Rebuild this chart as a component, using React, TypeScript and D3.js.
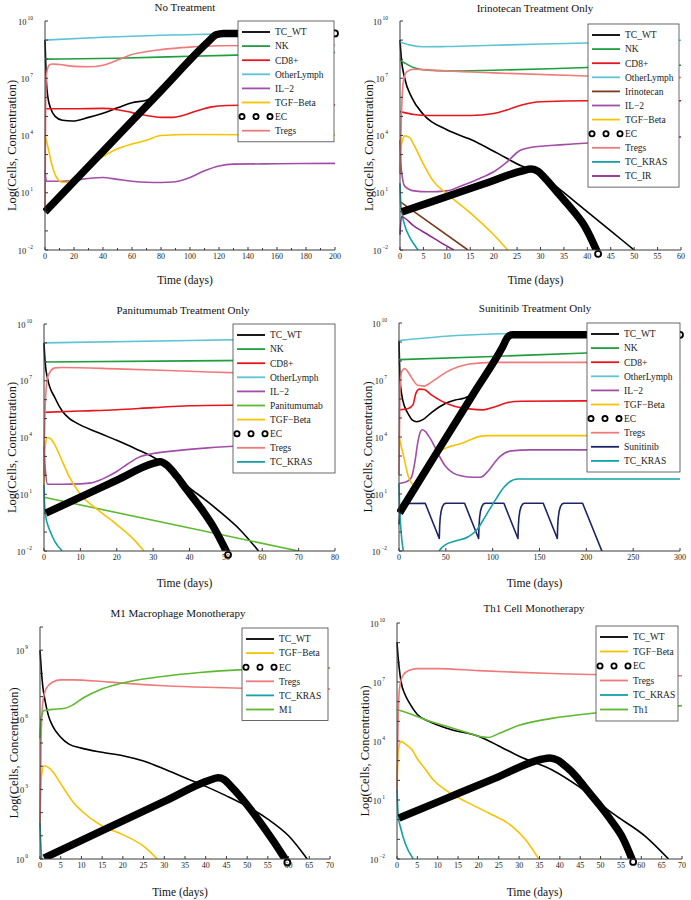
import React from "react";
import * as d3 from "d3";

type Pt = [number, number]; // [day, log10(value)]

// ---------------- Panel 1: No Treatment ----------------
const nt_TC_WT: Pt[] = [[0,9.0],[0.5,7.8],[1,6.8],[2,6.0],[4,5.4],[7,5.0],[12,4.8],[19,4.76],[30,4.95],[40,5.17],[50,5.45],[60,5.72],[70,5.85],[75,6.05],[80,6.4],[90,7.1],[100,7.85],[110,8.65],[118,9.2],[125,9.33],[200,9.34]];
const nt_NK: Pt[] = [[0,8.0],[50,8.05],[100,8.15],[150,8.25],[200,8.35]];
const nt_CD8: Pt[] = [[0,5.4],[20,5.4],[40,5.42],[50,5.35],[60,5.2],[70,5.05],[80,4.95],[88,4.95],[95,5.05],[105,5.3],[115,5.5],[125,5.57],[150,5.6],[200,5.6]];
const nt_Other: Pt[] = [[0,9.0],[40,9.15],[80,9.25],[120,9.32],[200,9.36]];
const nt_IL2: Pt[] = [[0,2.2],[0.5,1.8],[1,1.6],[10,1.6],[20,1.65],[30,1.75],[40,1.8],[50,1.7],[60,1.6],[70,1.55],[80,1.54],[90,1.58],[100,1.8],[110,2.15],[120,2.4],[130,2.5],[160,2.52],[200,2.54]];
const nt_TGF: Pt[] = [[0,4.0],[2,3.4],[5,2.4],[8,1.8],[12,1.55],[15,1.55],[20,1.8],[30,2.4],[40,2.9],[50,3.3],[60,3.55],[70,3.75],[80,4.0],[100,4.05],[200,4.02]];
const nt_EC: Pt[] = [[0,0.0],[40,3.17],[80,6.34],[112,8.87],[118,9.28],[123,9.35],[200,9.35]];
const nt_Tregs: Pt[] = [[0,0.0],[0.5,6.0],[1,7.2],[3,7.7],[5,7.75],[10,7.72],[20,7.62],[30,7.6],[40,7.68],[50,7.95],[60,8.25],[70,8.4],[80,8.5],[100,8.63],[120,8.7],[150,8.72],[200,8.73]];

// ---------------- Panel 2: Irinotecan ----------------
const ir_TC_WT: Pt[] = [[0,9.0],[0.3,8.0],[1,7.0],[2.5,6.0],[5,5.1],[10,4.3],[15,3.8],[21,3.05],[26,2.4],[29,2.15],[34,1.2],[39.5,0.1],[45,-1.0],[50,-2.0]];
const ir_NK: Pt[] = [[0,7.95],[1,7.8],[3,7.55],[6,7.42],[10,7.38],[20,7.42],[40,7.56],[60,7.68]];
const ir_CD8: Pt[] = [[0,5.25],[3,5.1],[6,5.05],[15,5.05],[20,5.15],[23,5.35],[26,5.6],[30,5.77],[40,5.82],[60,5.82]];
const ir_Other: Pt[] = [[0,8.9],[2,8.75],[5,8.65],[10,8.66],[20,8.73],[40,8.85],[60,8.99]];
const ir_Irino: Pt[] = [[0,0.53],[14.5,-2.0]];
const ir_IL2: Pt[] = [[0,3.75],[0.3,2.2],[1,1.35],[3,1.1],[6,1.05],[10,1.1],[13,1.35],[17,1.75],[20,2.1],[23,2.65],[25.5,3.2],[28,3.38],[35,3.52],[45,3.68],[60,3.93]];
const ir_TGF: Pt[] = [[0,2.0],[0.3,3.5],[1,3.98],[2,3.9],[3,3.5],[5,2.5],[7,1.65],[10,0.95],[15,-0.05],[20,-1.2],[23,-2.0]];
const ir_EC: Pt[] = [[0.4,0.0],[9,0.72],[18,1.47],[26,2.14],[28,2.24],[29.5,2.12],[31,1.75],[34,0.9],[37,0.05],[39.5,-0.78],[42.3,-2.2]];
const ir_Tregs: Pt[] = [[0,2.0],[0.3,5.0],[0.7,6.8],[1.5,7.35],[3,7.47],[5,7.45],[10,7.38],[20,7.28],[40,7.12],[60,7.04]];
const ir_KRAS: Pt[] = [[0,1.5],[0.15,0.5],[0.5,-0.2],[1,-0.7],[2,-1.3],[3,-1.7],[4,-2.05]];
const ir_TCIR: Pt[] = [[0,-1.2],[0.3,-0.26],[3,-0.75],[6,-1.2],[9,-1.65],[11.5,-2.0]];

// ---------------- Panel 3: Panitumumab ----------------
const pa_TC_WT: Pt[] = [[0,9.0],[0.3,8.0],[1,7.1],[3,6.1],[5,5.4],[7,5.0],[9,4.76],[15,4.25],[20,3.85],[25,3.42],[32,2.72],[35,2.25],[39,1.5],[44,0.75],[48.3,0.08],[54,-0.9],[59,-2.0]];
const pa_NK: Pt[] = [[0,7.99],[40,8.05],[80,8.11]];
const pa_CD8: Pt[] = [[0,5.33],[10,5.4],[20,5.47],[30,5.58],[40,5.68],[60,5.73],[80,5.76]];
const pa_Other: Pt[] = [[0,9.0],[40,9.13],[80,9.26]];
const pa_IL2: Pt[] = [[0,3.5],[0.3,2.5],[1,1.53],[5,1.53],[10,1.55],[13,1.6],[16,1.8],[20,2.2],[23,2.6],[26,2.95],[30,3.15],[35,3.28],[45,3.45],[55,3.58],[80,3.78]];
const pa_Pani: Pt[] = [[0,0.84],[70,-2.0]];
const pa_TGF: Pt[] = [[0,1.5],[0.3,3.5],[1,4.0],[2,3.9],[3,3.6],[5,2.75],[7,1.9],[10,1.0],[15,0.15],[20,-0.6],[25,-1.45],[27.5,-2.0]];
const pa_EC: Pt[] = [[0.5,0.0],[10,0.85],[20,1.74],[30,2.63],[32,2.72],[34,2.5],[36.5,1.95],[39,1.3],[43,0.3],[46.5,-0.7],[50.6,-2.2]];
const pa_Tregs: Pt[] = [[0,2.0],[0.3,5.5],[1,7.2],[3,7.68],[5,7.7],[20,7.63],[40,7.5],[60,7.38],[80,7.32]];
const pa_KRAS: Pt[] = [[0,1.5],[0.15,0.5],[0.5,-0.2],[1,-0.6],[2,-1.1],[3,-1.5],[5,-2.0]];

// ---------------- Panel 4: Sunitinib ----------------
const su_TC_WT: Pt[] = [[0,9.05],[0.5,8.0],[1.2,7.0],[3,6.2],[6,5.6],[10,5.2],[14,4.9],[19,4.8],[25,4.9],[35,5.3],[49,5.75],[60,5.95],[70,6.05],[78,6.25],[85,6.57],[95,7.4],[102,7.98],[110,8.6],[117,9.12],[124,9.37],[300,9.38]];
const su_NK: Pt[] = [[0,8.07],[100,8.24],[200,8.42],[300,8.54]];
const su_CD8: Pt[] = [[0,5.43],[10,5.5],[15,5.7],[18,6.3],[22,6.52],[27,6.5],[35,6.2],[45,5.9],[60,5.6],[75,5.48],[90,5.43],[100,5.55],[115,5.8],[130,5.88],[200,5.9],[230,5.8],[260,5.72],[300,5.7]];
const su_Other: Pt[] = [[0,9.07],[50,9.3],[100,9.42],[200,9.5],[300,9.53]];
const su_IL2: Pt[] = [[0,1.55],[5,1.6],[10,1.7],[13.5,1.9],[17,2.7],[20,3.7],[23,4.3],[25,4.38],[28,4.3],[33,3.95],[37,3.6],[43,3.0],[49,2.5],[58,2.1],[67,1.95],[80,1.88],[87,1.88],[95,2.2],[102,2.65],[108,2.98],[120,3.27],[140,3.32],[200,3.32],[225,3.0],[250,2.72],[300,2.65]];
const su_TGF: Pt[] = [[0,4.02],[1,3.8],[4.6,3.06],[10,1.92],[15,1.52],[20,1.65],[28,2.35],[36,2.9],[46,3.32],[56,3.52],[67,3.67],[76,3.85],[85,4.02],[95,4.07],[300,4.07]];
const su_EC: Pt[] = [[0.5,0.0],[40,3.15],[80,6.32],[111,8.78],[116,9.25],[121,9.38],[300,9.38]];
const su_Tregs: Pt[] = [[0,2.0],[1,6.5],[3,7.45],[6,7.6],[10,7.4],[15,7.0],[20,6.72],[27,6.68],[35,6.9],[50,7.4],[75,7.84],[100,7.93],[200,7.93],[240,8.3],[300,8.77]];
const su_Suni: Pt[] = [[0,-0.6],[1,0.0],[2,0.35],[3,0.5],[28,0.51],[43,-1.34],[43.4,-0.7],[44,-0.25],[45,0.1],[46.5,0.35],[48,0.47],[50,0.51],[70,0.51],[85,-1.34],[85.4,-0.7],[86,-0.25],[87,0.1],[88.5,0.35],[90,0.47],[92,0.51],[112,0.51],[127,-1.34],[127.4,-0.7],[128,-0.25],[129,0.1],[130.5,0.35],[132,0.47],[134,0.51],[154,0.51],[169,-1.34],[169.4,-0.7],[170,-0.25],[171,0.1],[172.5,0.35],[174,0.47],[176,0.51],[196,0.51],[217,-2.05]];
const su_KRAS: Pt[] = [[0,1.55],[0.5,0.5],[1.5,-0.5],[3,-1.4],[5,-2.1],[10,-2.8],[25,-3.0],[38,-2.6],[43,-2.0],[49,-1.69],[60,-1.48],[74,-1.25],[83,-0.9],[92,-0.19],[104,0.77],[112,1.35],[117,1.6],[127,1.79],[300,1.79]];

// ---------------- Panel 5: M1 Macrophage ----------------
const m1_TC_WT: Pt[] = [[0,9.0],[0.3,8.2],[0.7,7.4],[1.2,6.85],[2,6.2],[3,5.75],[5,5.25],[7,4.95],[10,4.78],[15,4.6],[20,4.45],[25,4.22],[30,3.88],[35,3.5],[40,3.13],[45,2.72],[50,2.27],[55,1.72],[60,1.0],[64.5,0.0]];
const m1_TGF: Pt[] = [[0,1.55],[0.3,3.5],[1,4.02],[2,3.95],[3,3.78],[5,3.25],[8,2.45],[10,2.08],[15,1.42],[20,1.05],[25,0.55],[28.3,0.0]];
const m1_EC: Pt[] = [[1,0.04],[15,1.22],[30,2.48],[41,3.4],[43,3.5],[44.5,3.42],[46,3.15],[48.3,2.7],[53,1.62],[56.3,0.78],[59.7,-0.15]];
const m1_Tregs: Pt[] = [[0,1.4],[0.3,5.5],[0.7,6.8],[1.5,7.35],[3,7.62],[5,7.72],[8,7.72],[15,7.65],[20,7.58],[30,7.47],[40,7.4],[50,7.36],[70,7.33]];
const m1_KRAS: Pt[] = [[0,1.55],[0.15,0.8],[0.4,0.0],[1,-1.0]];
const m1_M1: Pt[] = [[0,5.2],[0.3,6.1],[1,6.4],[3,6.45],[6,6.5],[8,6.65],[10.5,6.95],[14.5,7.3],[18.5,7.52],[22.5,7.68],[30,7.88],[38.6,8.04],[48,8.15],[70,8.23]];

// ---------------- Panel 6: Th1 ----------------
const th_TC_WT: Pt[] = [[0,9.02],[0.3,8.2],[0.6,7.6],[1,7.0],[2,6.35],[3,5.95],[5,5.35],[7.8,5.0],[13,4.6],[20,4.24],[25,3.75],[30,3.22],[38,2.54],[44.6,1.69],[52.8,0.34],[61,-0.85],[66.7,-2.0]];
const th_TGF: Pt[] = [[0,1.6],[0.3,3.5],[1,3.98],[2,3.85],[3.7,3.55],[5,3.1],[7,2.55],[9,2.0],[12,1.5],[16.8,0.93],[22.5,0.34],[28.3,-0.34],[31.5,-1.0],[34.8,-2.0]];
const th_EC: Pt[] = [[0.5,0.08],[12,1.07],[24,2.1],[35.5,3.07],[37.5,3.14],[39.5,3.02],[41.4,2.72],[44,2.2],[46.3,1.6],[49.5,0.8],[52.8,-0.1],[55.5,-0.95],[58,-2.15]];
const th_Tregs: Pt[] = [[0,1.5],[0.3,5.5],[0.7,6.8],[1.5,7.35],[3,7.6],[5,7.68],[10,7.68],[20,7.58],[30,7.49],[40,7.42],[50,7.37],[70,7.32]];
const th_KRAS: Pt[] = [[0,1.53],[0.3,0.2],[1,-0.5],[2,-1.2],[4,-2.0]];
const th_Th1: Pt[] = [[0,5.6],[3,5.4],[7,5.08],[13.5,4.66],[17,4.45],[20,4.24],[22.5,4.18],[25,4.38],[30,4.8],[38,5.15],[48.7,5.42],[60,5.62],[70,5.8]];

// ---------------- styling ----------------
const COL: Record<string, string> = {
  TC_WT: "#000000",
  NK: "#1e9e3c",
  "CD8+": "#e8151b",
  OtherLymph: "#5cc4d4",
  "IL\u22122": "#a24ea8",
  "TGF\u2212Beta": "#f6c300",
  EC: "#000000",
  Tregs: "#f07a7a",
  Irinotecan: "#7a3a1f",
  TC_KRAS: "#14a2a6",
  TC_IR: "#8b2a90",
  Panitumumab: "#5db92f",
  Sunitinib: "#1b2568",
  M1: "#5db92f",
  Th1: "#5db92f",
};
const LINEAR = new Set(["Sunitinib", "Irinotecan", "Panitumumab"]);

type S = { name: string; data: Pt[] };
type PanelDef = {
  title: string; titleX: number; titleY: number;
  left: number; right: number; top: number; bottom: number;
  xMax: number; xStep: number; xMinor: number;
  yMin: number; yMax: number; yLabels: number[];
  yTitleX: number; xTitleY: number;
  legend: { x: number; y: number; w: number; row: number };
  series: S[];
};

const PANELS: PanelDef[] = [
  {
    title: "No Treatment", titleX: 185, titleY: 11,
    left: 45, right: 335, top: 21, bottom: 250,
    xMax: 200, xStep: 20, xMinor: 10, yMin: -2, yMax: 10, yLabels: [-2, 1, 4, 7, 10],
    yTitleX: 12, xTitleY: 284,
    legend: { x: 238, y: 21, w: 96, row: 14.1 },
    series: [
      { name: "TC_WT", data: nt_TC_WT }, { name: "NK", data: nt_NK }, { name: "CD8+", data: nt_CD8 },
      { name: "OtherLymph", data: nt_Other }, { name: "IL\u22122", data: nt_IL2 }, { name: "TGF\u2212Beta", data: nt_TGF },
      { name: "EC", data: nt_EC }, { name: "Tregs", data: nt_Tregs },
    ],
  },
  {
    title: "Irinotecan Treatment Only", titleX: 535, titleY: 12,
    left: 400, right: 681, top: 21, bottom: 250,
    xMax: 60, xStep: 5, xMinor: 0, yMin: -2, yMax: 10, yLabels: [-2, 1, 4, 7, 10],
    yTitleX: 369, xTitleY: 284,
    legend: { x: 588, y: 24, w: 91, row: 14.1 },
    series: [
      { name: "TC_WT", data: ir_TC_WT }, { name: "NK", data: ir_NK }, { name: "CD8+", data: ir_CD8 },
      { name: "OtherLymph", data: ir_Other }, { name: "Irinotecan", data: ir_Irino }, { name: "IL\u22122", data: ir_IL2 },
      { name: "TGF\u2212Beta", data: ir_TGF }, { name: "EC", data: ir_EC }, { name: "Tregs", data: ir_Tregs },
      { name: "TC_KRAS", data: ir_KRAS }, { name: "TC_IR", data: ir_TCIR },
    ],
  },
  {
    title: "Panitumumab Treatment Only", titleX: 183, titleY: 314,
    left: 44, right: 335, top: 324, bottom: 551,
    xMax: 80, xStep: 10, xMinor: 0, yMin: -2, yMax: 10, yLabels: [-2, 1, 4, 7, 10],
    yTitleX: 12, xTitleY: 587,
    legend: { x: 233, y: 324, w: 102, row: 14.1 },
    series: [
      { name: "TC_WT", data: pa_TC_WT }, { name: "NK", data: pa_NK }, { name: "CD8+", data: pa_CD8 },
      { name: "OtherLymph", data: pa_Other }, { name: "IL\u22122", data: pa_IL2 }, { name: "Panitumumab", data: pa_Pani },
      { name: "TGF\u2212Beta", data: pa_TGF }, { name: "EC", data: pa_EC }, { name: "Tregs", data: pa_Tregs },
      { name: "TC_KRAS", data: pa_KRAS },
    ],
  },
  {
    title: "Sunitinib Treatment Only", titleX: 535, titleY: 312,
    left: 399, right: 680, top: 323, bottom: 551,
    xMax: 300, xStep: 50, xMinor: 0, yMin: -2, yMax: 10, yLabels: [-2, 1, 4, 7, 10],
    yTitleX: 368, xTitleY: 587,
    legend: { x: 587, y: 323, w: 93, row: 14.1 },
    series: [
      { name: "TC_WT", data: su_TC_WT }, { name: "NK", data: su_NK }, { name: "CD8+", data: su_CD8 },
      { name: "OtherLymph", data: su_Other }, { name: "IL\u22122", data: su_IL2 }, { name: "TGF\u2212Beta", data: su_TGF },
      { name: "EC", data: su_EC }, { name: "Tregs", data: su_Tregs }, { name: "Sunitinib", data: su_Suni },
      { name: "TC_KRAS", data: su_KRAS },
    ],
  },
  {
    title: "M1 Macrophage Monotherapy", titleX: 178, titleY: 617,
    left: 40, right: 330, top: 627, bottom: 859,
    xMax: 70, xStep: 5, xMinor: 0, yMin: 0, yMax: 10, yLabels: [0, 3, 6, 9],
    yTitleX: 14, xTitleY: 896,
    legend: { x: 242, y: 628, w: 86, row: 14.1 },
    series: [
      { name: "TC_WT", data: m1_TC_WT }, { name: "TGF\u2212Beta", data: m1_TGF }, { name: "EC", data: m1_EC },
      { name: "Tregs", data: m1_Tregs }, { name: "TC_KRAS", data: m1_KRAS }, { name: "M1", data: m1_M1 },
    ],
  },
  {
    title: "Th1 Cell Monotherapy", titleX: 534, titleY: 612,
    left: 397, right: 682, top: 623, bottom: 859,
    xMax: 70, xStep: 5, xMinor: 0, yMin: -2, yMax: 10, yLabels: [-2, 1, 4, 7, 10],
    yTitleX: 365, xTitleY: 896,
    legend: { x: 596, y: 626, w: 82, row: 14.5 },
    series: [
      { name: "TC_WT", data: th_TC_WT }, { name: "TGF\u2212Beta", data: th_TGF }, { name: "EC", data: th_EC },
      { name: "Tregs", data: th_Tregs }, { name: "TC_KRAS", data: th_KRAS }, { name: "Th1", data: th_Th1 },
    ],
  },
];

const AX = "#3a3a3a";

function Panel({ p, id }: { p: PanelDef; id: number }) {
  const x = d3.scaleLinear().domain([0, p.xMax]).range([p.left, p.right]);
  const y = d3.scaleLog().domain([10 ** p.yMin, 10 ** p.yMax]).range([p.bottom, p.top]);
  const mk = (name: string) =>
    d3.line<Pt>()
      .x((d) => x(d[0]))
      .y((d) => y(10 ** d[1]))
      .curve(LINEAR.has(name) ? d3.curveLinear : d3.curveMonotoneX);
  const xt = d3.range(0, p.xMax + 1e-9, p.xStep);
  const xm = p.xMinor ? d3.range(p.xMinor, p.xMax, p.xStep) : [];
  const yt = d3.range(p.yMin, p.yMax + 1e-9, 1);
  const clip = `clip${id}`;
  const thin = p.series.filter((s) => s.name !== "EC");
  const ec = p.series.find((s) => s.name === "EC");
  const ecLast = ec ? ec.data[ec.data.length - 1] : null;
  const midY = (p.top + p.bottom) / 2 + 10;
  const L = p.legend;
  return (
    <g>
      <defs>
        <clipPath id={clip}>
          <rect x={p.left - 2} y={p.top - 4} width={p.right - p.left + 4} height={p.bottom - p.top + 4} />
        </clipPath>
      </defs>
      <text x={p.titleX} y={p.titleY} textAnchor="middle" fontSize={11} fill="#111">{p.title}</text>
      <g clipPath={`url(#${clip})`} fill="none">
        {thin.map((s) => (
          <path key={s.name} d={mk(s.name)(s.data) || ""} stroke={COL[s.name]} strokeWidth={1.6} strokeLinejoin="round" />
        ))}
      </g>
      {ec && (
        <g clipPath={`url(#${clip})`}>
          <path d={mk("EC")(ec.data) || ""} stroke="#000" strokeWidth={7.5} fill="none" strokeLinejoin="round" />
        </g>
      )}
      {ecLast && (
        <circle cx={x(ecLast[0])} cy={y(10 ** ecLast[1])} r={3} fill="#fff" stroke="#000" strokeWidth={1.8} />
      )}
      <line x1={p.left} x2={p.left} y1={p.top} y2={p.bottom} stroke={AX} strokeWidth={1} />
      <line x1={p.left} x2={p.right} y1={p.bottom} y2={p.bottom} stroke={AX} strokeWidth={1} />
      {yt.map((e) => (
        <line key={"yt" + e} x1={p.left} x2={p.left + 3} y1={y(10 ** e)} y2={y(10 ** e)} stroke={AX} strokeWidth={1} />
      ))}
      {p.yLabels.map((e) => (
        <text key={"yl" + e} x={p.left - 12} y={y(10 ** e) + 3.5} textAnchor="end" fontSize={8.5} fill="#222">
          10
          <tspan fontSize={5.5} dx={1} dy={-5}>{e < 0 ? "\u2212" + Math.abs(e) : String(e)}</tspan>
        </text>
      ))}
      {xt.map((v) => (
        <g key={"xt" + v}>
          <line x1={x(v)} x2={x(v)} y1={p.bottom} y2={p.bottom - 3} stroke={AX} strokeWidth={1} />
          <text x={x(v)} y={p.bottom + 8.5} textAnchor="middle" fontSize={8} fill="#222">{v}</text>
        </g>
      ))}
      {xm.map((v) => (
        <line key={"xm" + v} x1={x(v)} x2={x(v)} y1={p.bottom} y2={p.bottom - 2} stroke={AX} strokeWidth={1} />
      ))}
      <text x={(p.left + p.right) / 2 - 5} y={p.xTitleY} textAnchor="middle" fontSize={11.5} fill="#111">Time (days)</text>
      <text transform={`translate(${p.yTitleX},${midY}) rotate(-90)`} textAnchor="middle" dy="0.35em" fontSize={12.5} fill="#111">
        Log(Cells, Concentration)
      </text>
      <rect x={L.x} y={L.y} width={L.w} height={p.series.length * L.row + 8} fill="#fff" stroke="#444" strokeWidth={0.8} />
      {p.series.map((s, i) => {
        const cy = L.y + 11 + i * L.row;
        return (
          <g key={"lg" + s.name}>
            {s.name === "EC" ? (
              [4, 18, 32].map((dx) => (
                <circle key={dx} cx={L.x + dx} cy={cy} r={2.6} fill="#fff" stroke="#000" strokeWidth={1.8} />
              ))
            ) : (
              <line x1={L.x + 4} x2={L.x + 32} y1={cy} y2={cy} stroke={COL[s.name]} strokeWidth={1.8} />
            )}
            <text x={L.x + 37} y={cy + 3.3} fontSize={9.5} fill="#222">{s.name}</text>
          </g>
        );
      })}
    </g>
  );
}

export default function App() {
  return (
    <svg
      width={691}
      height={900}
      style={{ position: "absolute", left: 0, top: 0, background: "#fff" }}
      fontFamily="'Liberation Serif','Times New Roman',serif"
    >
      <rect x={0} y={0} width={691} height={900} fill="#fff" />
      {PANELS.map((p, i) => (
        <Panel key={i} p={p} id={i} />
      ))}
    </svg>
  );
}
